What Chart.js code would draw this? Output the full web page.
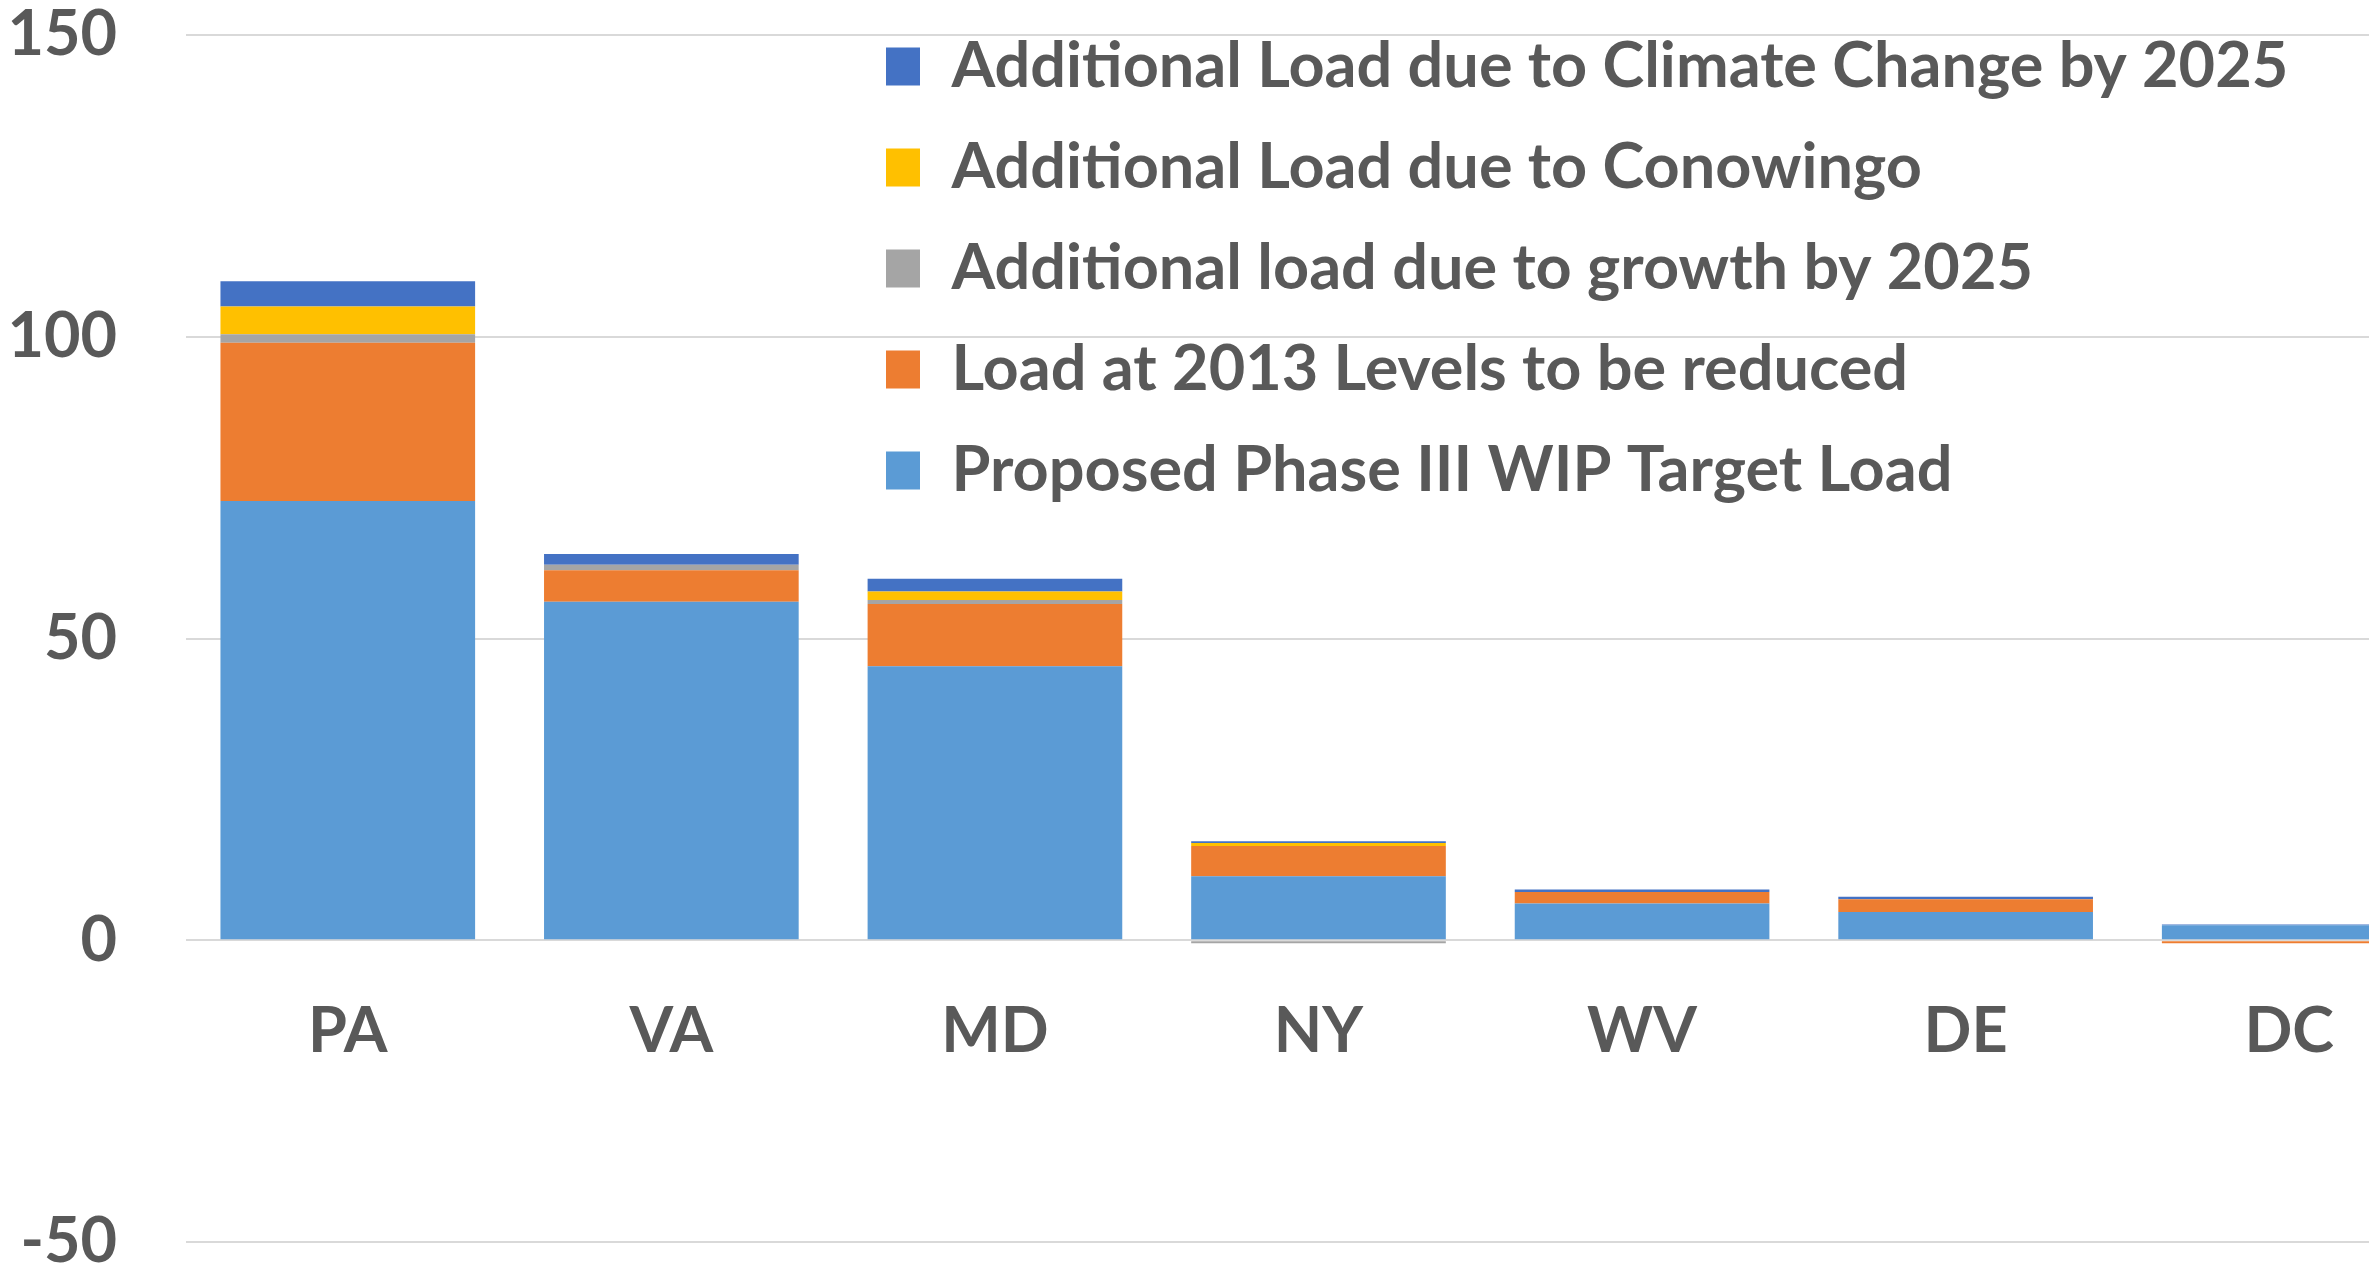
<!DOCTYPE html>
<html>
<head>
<meta charset="utf-8">
<script src="https://cdn.jsdelivr.net/npm/chart.js@4"></script>
<style>
html,body{margin:0;padding:0;overflow:hidden;background:#ffffff;}
#wrap{position:relative;width:2480px;height:1300px;}
</style>
</head>
<body>
<div id="wrap"><canvas id="c" width="2480" height="1300"></canvas></div>
<script>
// ---- data ----
const categories = ['PA', 'VA', 'MD', 'NY', 'WV', 'DE', 'DC'];
const seriesNames = [
  'Proposed Phase III WIP Target Load',
  'Load at 2013 Levels to be reduced',
  'Additional load due to growth by 2025',
  'Additional Load due to Conowingo',
  'Additional Load due to Climate Change by 2025'
];
const proposedTarget = [72.8, 56.1, 45.4, 10.6, 6.1, 4.7, 2.5];
const load2013       = [26.2, 5.2, 10.3, 5.0, 1.9, 2.1, -0.5];
const growth2025     = [1.4, 0.9, 0.7, -0.5, 0, 0, 0];
const conowingo      = [4.6, 0, 1.4, 0.5, 0, 0, 0];
const climate2025    = [4.2, 1.8, 2.1, 0.3, 0.4, 0.4, 0.1];
const yTicks = [-50, 0, 50, 100, 150];
const seriesColors = ['#5B9BD5', '#ED7D31', '#A5A5A5', '#FFC000', '#4472C4'];

// ---- font choice ----
const mctx = document.createElement('canvas').getContext('2d');
function isAvail(f) {
  const s = 'Additional Load due to Climate Change 2025';
  for (const base of ['monospace', 'serif']) {
    mctx.font = 'bold 40px ' + base;
    const a = mctx.measureText(s).width;
    mctx.font = 'bold 40px "' + f + '", ' + base;
    const b = mctx.measureText(s).width;
    if (a !== b) return true;
  }
  return false;
}
const candidates = ['Liberation Sans Narrow', 'DejaVu Sans Condensed', 'Lato', 'Open Sans', 'Liberation Sans', 'DejaVu Sans'];
let family = 'sans-serif', bestW = Infinity;
const longest = seriesNames[4];
for (const f of candidates) {
  if (!isAvail(f)) continue;
  mctx.font = 'bold 58px "' + f + '"';
  const w = mctx.measureText(longest).width;
  if (w < bestW) { bestW = w; family = f; }
}
const fam = '"' + family + '", sans-serif';
mctx.font = 'bold 58px ' + fam;
const legendSize = Math.min(63, 58 * 1396 / mctx.measureText(longest).width);
const tickSize = 63;

const legendPad = 101 - legendSize;
const legendTop = 66.5 - legendPad - legendSize / 2;

const series = [proposedTarget, load2013, growth2025, conowingo, climate2025];
const datasets = series.map((d, i) => ({
  label: seriesNames[i],
  data: d,
  backgroundColor: seriesColors[i],
  borderWidth: 0,
  barPercentage: 0.787,
  categoryPercentage: 1.0
}));

const legendMover = {
  id: 'legendMover',
  afterLayout(chart) {
    const l = chart.legend;
    if (!l) return;
    const w = l.width, h = l.height;
    l.left = 848; l.top = legendTop;
    l.right = l.left + w; l.bottom = l.top + h;
  }
};

new Chart(document.getElementById('c'), {
  type: 'bar',
  data: { labels: categories, datasets },
  plugins: [legendMover],
  options: {
    responsive: false,
    devicePixelRatio: 1,
    animation: false,
    layout: { padding: { left: 0, top: 35, right: 29, bottom: 58 } },
    plugins: {
      tooltip: { enabled: false },
      title: { display: false },
      legend: {
        position: 'chartArea',
        align: 'start',
        reverse: true,
        labels: {
          boxWidth: 34,
          boxHeight: 38,
          padding: legendPad,
          color: '#595959',
          font: { family: fam, size: legendSize, weight: 'bold', lineHeight: 1 }
        }
      }
    },
    scales: {
      x: {
        stacked: true,
        position: { y: 0 },
        grid: { display: false, drawTicks: false },
        border: { display: false },
        ticks: {
          color: '#595959',
          padding: 60,
          autoSkip: false,
          maxRotation: 0,
          font: { family: fam, size: tickSize, weight: 'bold', lineHeight: 1 }
        }
      },
      y: {
        stacked: true,
        min: yTicks[0],
        max: yTicks[yTicks.length - 1],
        afterFit(scale) { scale.width = 186; scale.paddingTop = 0; scale.paddingBottom = 0; },
        afterBuildTicks(scale) { scale.ticks = yTicks.map(v => ({ value: v })); },
        grid: { color: '#D9D9D9', lineWidth: 2, drawTicks: false },
        border: { display: false },
        ticks: {
          color: '#595959',
          padding: 69,
          font: { family: fam, size: tickSize, weight: 'bold', lineHeight: 1 }
        }
      }
    }
  }
});
</script>
</body>
</html>
